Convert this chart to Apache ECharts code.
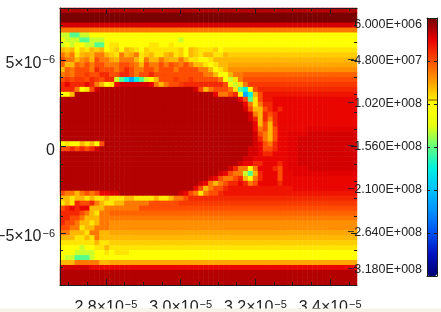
<!DOCTYPE html>
<html><head><meta charset="utf-8">
<style>html,body{margin:0;padding:0;background:#fff;overflow:hidden}#c{width:441px;height:312px;filter:blur(0.7px)}</style>
<script src="https://cdn.jsdelivr.net/npm/echarts@6/dist/echarts.min.js"></script>
</head><body><div id="c"></div>
<script>
// level codes used in the field rows below -> read value on the colour bar
const levelCodes = '0123456789abcdefghijk';
const levelValues = [3.5e6,-9e6,-1.66e7,-2.29e7,-3.42e7,-4.67e7,-6.18e7,-8.19e7,-9.45e7,-1.02e8,-1.347e8,-1.598e8,-1.824e8,-2.226e8,-2.79e7,-4.05e7,-5.43e7,-6.93e7,-7.69e7,-8.82e7,-1.97e7];
// field, 60 columns x 56 rows, top row first
const fieldRows = [
'1111111111 1111111111 1111111111 1111111111 1111111111 1111111111',
'0000000000 0000000000 0000000000 0000000000 0000000000 0000000000',
'0000000000 0000000000 0000000000 0000000000 0000000000 0000000000',
'2222222222 2222222222 2222222222 2222222222 2222222222 2222222222',
'6666666666 6666666666 6666666666 6666666666 6666666666 6666666666',
'aabbaa9999 9999999999 9999999999 9999999999 9999999999 9999999999',
'9aaabbaaa9 9999999999 9999a99999 9999999999 9999999999 9999999999',
'a9a99aabb9 8899999988 9989999999 9999999999 9999999999 9999999999',
'7j79j87j79 8j97j89j88 8888j97j88 8j98888888 8888888888 8888888888',
'6i687i7667 j867i68j78 87i8j97j87 7887jjjjjj jjjjjjjjjj jjjjjjjjjj',
'5667h67566 i766678677 6i77678899 8777777777 7777777777 7777777777',
'g77g656556 6655g67566 565g656778 9877iiiiii iiiiiiiiii iiiiiiiiii',
'7g65556455 5654566556 5556555566 7987hhhhhh hhhhhhhhhh hhhhhhhhhh',
'6g655f5544 5544565545 5555555556 6799766ggg gggggggggg gggggggggg',
'5f5ff54f54 4abcdcba97 555f55f555 5569a86555 5555555555 5555555555',
'4344434679 8322222236 7655f44444 44459a86ff ffffffffff ffffffffff',
'4446985211 1111111111 1111111257 655568bc95 4444444444 4444444444',
'9971111111 1111111111 1111111111 1366549dc7 5eeeeeeeee eeeeeeeeee',
'1111111111 1111111111 1111111111 11111135b8 5ee3333333 3333333333',
'1111111111 1111111111 1111111111 1111111368 6443333333 3333333333',
'1111111111 1111111111 1111111111 1111111257 7543433333 3333333333',
'1111111111 1111111111 1111111111 1111111126 7454333333 3333333333',
'1111111111 1111111111 1111111111 1111111124 7464333333 3333333333',
'1111111111 1111111111 1111111111 1111111113 7574333333 3333333333',
'1111111111 1111111111 1111111111 1111111113 6575333333 kkkkkkkkkk',
'1111111111 1111111111 1111111111 1111111112 567533kkkk 2222222222',
'1111111111 1111111111 1111111111 1111111112 467533kk22 2222222222',
'9899787951 1111111111 1111111111 1111111112 356433kk22 2222222222',
'5545454211 1111111111 1111111111 1111111122 355433kk22 2222222222',
'1111111111 1111111111 1111111111 1111111122 344333kk22 2222222222',
'1111111111 1111111111 1111111111 1111111223 333333kk22 2222222222',
'1111111111 1111111111 1111111111 1111112334 433343kk22 2222222222',
'1111111111 1111111111 1111111111 1111246696 333453kkkk 2222222222',
'1111111111 1111111111 1111111111 1123566ab7 4333533kkk kkkkkkkkkk',
'1111111111 1111111111 1111111111 2356654796 4333533333 3333333333',
'1111111111 1111111111 1111111123 6765443465 3333433333 3333333333',
'1111111111 1111111111 1111111357 6554eeeeee eeeeeee333 3333333333',
'5667656533 2211111111 1111235686 554eeeeeee eeeeeeeeee eeeeeeeeee',
'7787787887 8887788887 8876654444 4444444444 4444444444 4444444444',
'8784554678 8776666655 5555ffffff ffffffffff ffffffffff ffffffffff',
'5434337776 6666665555 5555555555 5555555555 5555555555 5555555555',
'4444567866 gggggggggg gggggggggg gggggggggg gggggggggg gggggggggg',
'4455677766 6666666666 6666666666 6666666666 6666666666 6666666666',
'4556778766 hhhhhhhhhh hhhhhhhhhh hhhhhhhhhh hhhhhhhhhh hhhhhhhhhh',
'5566877666 hhhhhhhhhh hhhhhhhhhh hhhhhhhhhh hhhhhhhhhh hhhhhhhhhh',
'6677786677 iiiiiiiiii iiiiiiiiii iiiiiiiiii iiiiiiiiii iiiiiiiiii',
'7778878677 7777777777 7777777777 7777777777 7777777777 7777777777',
'8888888788 jjjjjjjjjj jjjjjjjjjj jjjjjjjjjj jjjjjjjjjj jjjjjjjjjj',
'9999a99887 8888888888 8888888888 8888888888 8888888888 8888888888',
'999aaaa998 9888999999 9999999999 9999999999 9999999999 9999999999',
'9aabbba999 9999999999 9999999999 9999999999 9999999999 9999999999',
'7776666677 iiiiiiiiii iiiiiiiiii iiiiiiiiii iiiiiiiiii iiiiiiiiii',
'2222223333 3333333333 3333333333 3333333333 3333333333 3333333333',
'1111111111 1111111111 1111111111 1111111111 1111111111 1111111111',
'1111111111 1111111111 1111111111 1111111111 1111111111 1111111111',
'1111111111 1111111111 1111111111 1111111111 1111111111 1111111111'
];
const xRange = [2.677e-5, 3.472e-5];
const yRange = [-8e-6, 8e-6];
const xMajor = [2.8e-5, 3.0e-5, 3.2e-5, 3.4e-5];
const xMajorLabels = ['2.8','3.0','3.2','3.4'];
const xMinor = [2.7e-5,2.75e-5,2.85e-5,2.9e-5,2.95e-5,3.05e-5,3.1e-5,3.15e-5,3.25e-5,3.3e-5,3.35e-5,3.45e-5];
const yMajor = [-5e-6, 0, 5e-6];
const yMajorLabels = ['-5','0','5'];
const yMinor = [-8e-6,-7e-6,-6e-6,-4e-6,-3e-6,-2e-6,-1e-6,1e-6,2e-6,3e-6,4e-6,6e-6,7e-6,8e-6];
const barRange = [-3.18e8, 6e6];
const barTicks = [6e6,-4.8e7,-1.02e8,-1.56e8,-2.10e8,-2.64e8,-3.18e8];
const barTickLabels = ['6.000E+006','\u22124.800E+007','\u22121.020E+008','\u22121.560E+008','\u22122.100E+008','\u22122.640E+008','\u22123.180E+008'];
const barLineValue = -9.7e7;
const barColors = ['#700000','#e80000','#ff5000','#ffa000','#ffff00','#e8ff10','#60ff80','#00f0e0','#00c0ff','#0090ff','#0050f0','#0010c0','#000070'];

const rows = fieldRows.map(r => r.replace(/ /g,''));
const cols = Array.from({length: rows[0].length}, (_, i) => i);
const rowIdx = rows.map((_, j) => j);
const cells = [];
rows.forEach((r, j) => { for (let i = 0; i < r.length; i++) cells.push([i, j, levelValues[levelCodes.indexOf(r[i])]]); });

const plot = {left:60, top:8, width:297, height:277, outerBoundsMode:'none'};
const labelPlot = {left:60, top:12, width:297, height:277, outerBoundsMode:'none'};
const bar = {left:427, top:18, width:10, height:258, outerBoundsMode:'none'};
const ink = '#1c1c1c';
const font = 'Liberation Sans';
const rich = {
  a:{fontFamily:font, fontSize:16, color:'#222'},
  s:{fontFamily:font, fontSize:11, color:'#222', padding:[0,0,7,1]}
};
const hiddenAxis = (extra) => Object.assign({show:false}, extra);
const tickAxis = (base, len, vals, line, labels) => Object.assign({
  type:'value', z:10, scale:true,
  axisLine:{show:line, onZero:false, lineStyle:{color:ink, width:1}},
  axisTick:{show:true, inside:true, length:len, customValues:vals, lineStyle:{color:ink, width:1}},
  axisLabel: labels || {show:false},
  splitLine:{show:false}
}, base);

const option = {
  animation:false,
  backgroundColor:'#fff',
  grid:[
    Object.assign({}, plot),
    Object.assign({}, plot),
    Object.assign({}, plot),
    Object.assign({}, bar),
    Object.assign({}, labelPlot)
  ],
  xAxis:[
    hiddenAxis({type:'category', data:cols, gridIndex:0}),
    tickAxis({gridIndex:1, position:'bottom', min:xRange[0], max:xRange[1]}, 6, xMajor, true, {
      show:true, customValues:xMajor, margin:14, rich,
      formatter:v => `{a|${xMajorLabels[xMajor.findIndex(t=>Math.abs(t-v)<1e-9)]}×10}{s|\u22125}`
    }),
    tickAxis({gridIndex:1, position:'top', min:xRange[0], max:xRange[1]}, 6, xMajor, true),
    tickAxis({gridIndex:2, position:'bottom', min:xRange[0], max:xRange[1]}, 3, xMinor, false),
    tickAxis({gridIndex:2, position:'top', min:xRange[0], max:xRange[1]}, 3, xMinor, false),
    {type:'value', gridIndex:3, min:0, max:1, z:10, position:'bottom',
     axisLine:{show:true, onZero:false, lineStyle:{color:ink}}, axisTick:{show:false}, axisLabel:{show:false}, splitLine:{show:false}},
    {type:'value', gridIndex:3, min:0, max:1, z:10, position:'top',
     axisLine:{show:true, onZero:false, lineStyle:{color:ink}}, axisTick:{show:false}, axisLabel:{show:false}, splitLine:{show:false}},
    hiddenAxis({type:'value', gridIndex:4, min:xRange[0], max:xRange[1]})
  ],
  yAxis:[
    hiddenAxis({type:'category', data:rowIdx, inverse:true, gridIndex:0}),
    tickAxis({gridIndex:1, position:'left', min:yRange[0], max:yRange[1]}, 6, yMajor, true),
    tickAxis({gridIndex:1, position:'right', min:yRange[0], max:yRange[1]}, 6, yMajor, false),
    tickAxis({gridIndex:2, position:'left', min:yRange[0], max:yRange[1]}, 3, yMinor, false),
    tickAxis({gridIndex:2, position:'right', min:yRange[0], max:yRange[1]}, 3, yMinor, false),
    tickAxis({gridIndex:3, position:'left', min:barRange[0], max:barRange[1]}, 3, barTicks, true, {
      show:true, customValues:barTicks, margin:5, fontFamily:font, fontSize:12.5, color:'#222',
      verticalAlignMaxLabel:'bottom', verticalAlignMinLabel:'top',
      formatter:v => barTickLabels[barTicks.indexOf(v)]
    }),
    tickAxis({gridIndex:3, position:'right', min:barRange[0], max:barRange[1]}, 3, barTicks, true),
    {type:'value', gridIndex:4, position:'left', min:yRange[0], max:yRange[1], z:10,
     axisLine:{show:false}, axisTick:{show:false}, splitLine:{show:false},
     axisLabel:{show:true, customValues:yMajor, margin:5, rich,
       formatter:v => {
         const t = yMajorLabels[yMajor.findIndex(m=>Math.abs(m-v)<1e-9)];
         return t === '0' ? '{a|0}' : `{a|${t.replace('-','\u2212')}×10}{s|\u22126}`;
       }}}
  ],
  visualMap:{
    type:'continuous', seriesIndex:0, min:barRange[0], max:barRange[1],
    left:bar.left, top:bar.top, itemWidth:bar.width, itemHeight:bar.height,
    padding:0, calculable:false, hoverLink:false, text:null, showLabel:false,
    inRange:{color:barColors.slice().reverse()},
    textStyle:{fontSize:1, color:'transparent'}
  },
  series:[
    {type:'heatmap', xAxisIndex:0, yAxisIndex:0, data:cells, progressive:0, emphasis:{disabled:true}},
    {type:'line', xAxisIndex:5, yAxisIndex:5, z:12, symbol:'none', silent:true,
     data:[[0,barLineValue],[1,barLineValue]], lineStyle:{color:'#8a5000', width:1}}
  ],
  graphic:[
    {type:'rect', z:100, left:0, top:308.5, shape:{width:441, height:4}, style:{fill:'#f4f4e8'}}
  ]
};
echarts.init(document.getElementById('c'), null, {renderer:'canvas'}).setOption(option);
</script></body></html>
